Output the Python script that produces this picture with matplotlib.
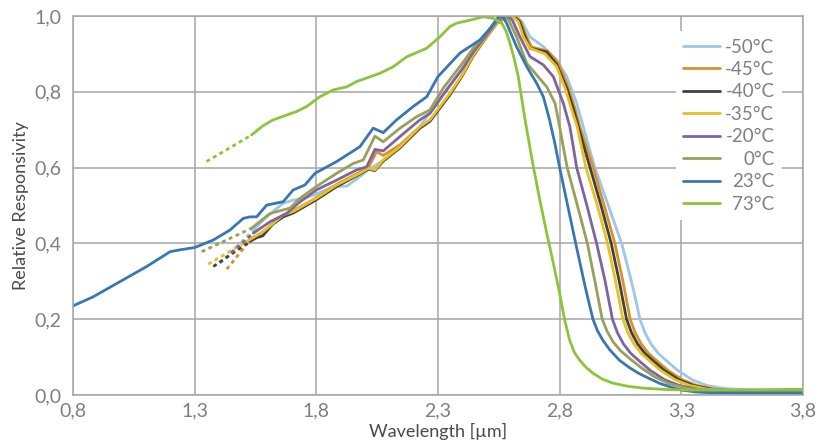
import matplotlib
matplotlib.use("Agg")
from matplotlib import pyplot as plt

plt.rcParams["font.family"] = ["Lato", "DejaVu Sans"]

# ----- data -----
labels = ["-50°C", "-45°C", "-40°C", "-35°C", "-20°C", "0°C", "23°C", "73°C"]
colors = ["#9dc6ea", "#d8922a", "#404040", "#e8c01f", "#8064a2", "#98a05a", "#3a77b0", "#8cc43c"]

# dashed (extrapolated) starts
dash_x_m50 = [1.404, 1.541]
dash_y_m50 = [0.347, 0.435]
dash_x_m45 = [1.432, 1.534]
dash_y_m45 = [0.332, 0.413]
dash_x_m40 = [1.377, 1.527]
dash_y_m40 = [0.339, 0.405]
dash_x_m35 = [1.356, 1.514]
dash_y_m35 = [0.345, 0.405]
dash_x_m20 = [1.45, 1.541]
dash_y_m20 = [0.375, 0.427]
dash_x_0 = [1.329, 1.534]
dash_y_0 = [0.378, 0.440]
dash_x_23 = []
dash_y_23 = []
dash_x_73 = [1.349, 1.534]
dash_y_73 = [0.616, 0.686]

x_m50 = [1.541, 1.596, 1.664, 1.705, 1.753, 1.80, 1.87, 1.925, 1.979, 2.021, 2.075, 2.144, 2.226, 2.30,
         2.38, 2.445, 2.50, 2.545, 2.585, 2.62, 2.645, 2.678, 2.733, 2.788, 2.829, 2.87, 2.897, 2.92, 2.945,
         3.0, 3.055, 3.095, 3.113, 3.13, 3.15, 3.175, 3.205, 3.245, 3.285, 3.345, 3.405, 3.48, 3.58, 3.8]
y_m50 = [0.435, 0.470, 0.506, 0.514, 0.519, 0.530, 0.550, 0.551, 0.576, 0.598, 0.618, 0.655, 0.708, 0.775,
         0.845, 0.897, 0.945, 0.982, 0.998, 1.0, 0.985, 0.945, 0.919, 0.884, 0.840, 0.770, 0.708, 0.655, 0.60,
         0.50, 0.40, 0.30, 0.25, 0.20, 0.165, 0.135, 0.11, 0.087, 0.065, 0.04, 0.025, 0.017, 0.013, 0.010]

x_m45 = [1.534, 1.58, 1.664, 1.705, 1.80, 1.884, 1.979, 2.014, 2.048, 2.075, 2.144, 2.226, 2.267, 2.349,
         2.40, 2.445, 2.50, 2.54, 2.58, 2.615, 2.64, 2.66, 2.685, 2.75, 2.795, 2.835, 2.862, 2.883, 2.91,
         2.938, 2.983, 3.027, 3.06, 3.075, 3.09, 3.11, 3.135, 3.165, 3.205, 3.245, 3.305, 3.365, 3.44, 3.55,
         3.8]
y_m45 = [0.413, 0.430, 0.475, 0.486, 0.520, 0.556, 0.588, 0.600, 0.642, 0.632, 0.660, 0.708, 0.724, 0.792,
         0.843, 0.895, 0.945, 0.980, 0.998, 1.0, 0.985, 0.950, 0.918, 0.908, 0.875, 0.812, 0.758, 0.708, 0.655,
         0.60, 0.50, 0.40, 0.30, 0.25, 0.20, 0.165, 0.135, 0.11, 0.087, 0.065, 0.04, 0.025, 0.015, 0.010,
         0.008]

x_m40 = [1.527, 1.555, 1.58, 1.62, 1.664, 1.705, 1.80, 1.884, 1.979, 2.014, 2.041, 2.075, 2.144, 2.226,
         2.267, 2.349, 2.40, 2.445, 2.50, 2.54, 2.58, 2.61, 2.635, 2.655, 2.678, 2.747, 2.788, 2.829, 2.856,
         2.877, 2.90, 2.925, 2.97, 3.012, 3.045, 3.06, 3.075, 3.095, 3.12, 3.15, 3.19, 3.23, 3.29, 3.35,
         3.425, 3.55, 3.8]
y_m40 = [0.405, 0.415, 0.420, 0.450, 0.470, 0.480, 0.515, 0.550, 0.583, 0.596, 0.592, 0.617, 0.652, 0.704,
         0.722, 0.792, 0.843, 0.895, 0.945, 0.980, 0.998, 1.0, 0.985, 0.950, 0.915, 0.905, 0.872, 0.810, 0.756,
         0.708, 0.655, 0.60, 0.50, 0.40, 0.30, 0.25, 0.20, 0.165, 0.135, 0.11, 0.087, 0.065, 0.04, 0.025,
         0.015, 0.009, 0.007]

x_m35 = [1.514, 1.582, 1.664, 1.705, 1.80, 1.884, 1.979, 2.014, 2.041, 2.075, 2.144, 2.226, 2.267, 2.349,
         2.40, 2.445, 2.50, 2.54, 2.575, 2.605, 2.63, 2.651, 2.678, 2.74, 2.788, 2.825, 2.85, 2.872, 2.89,
         2.908, 2.955, 2.997, 3.03, 3.045, 3.06, 3.08, 3.105, 3.135, 3.175, 3.215, 3.275, 3.335, 3.41, 3.55,
         3.8]
y_m35 = [0.405, 0.431, 0.475, 0.484, 0.519, 0.554, 0.585, 0.598, 0.594, 0.620, 0.655, 0.708, 0.726, 0.796,
         0.845, 0.897, 0.945, 0.980, 0.997, 1.0, 0.985, 0.945, 0.915, 0.900, 0.866, 0.805, 0.752, 0.708, 0.655,
         0.60, 0.50, 0.40, 0.30, 0.25, 0.20, 0.165, 0.135, 0.11, 0.087, 0.065, 0.04, 0.025, 0.015, 0.008,
         0.007]

x_m20 = [1.541, 1.61, 1.678, 1.726, 1.80, 1.884, 1.966, 2.007, 2.041, 2.075, 2.144, 2.226, 2.267, 2.336,
         2.40, 2.445, 2.50, 2.54, 2.575, 2.605, 2.637, 2.678, 2.733, 2.774, 2.815, 2.842, 2.856, 2.87, 2.912,
         2.952, 2.987, 3.002, 3.017, 3.037, 3.062, 3.092, 3.132, 3.172, 3.232, 3.292, 3.367, 3.5, 3.8]
y_m20 = [0.427, 0.457, 0.479, 0.506, 0.541, 0.567, 0.594, 0.602, 0.648, 0.644, 0.682, 0.726, 0.743, 0.805,
         0.860, 0.905, 0.950, 0.985, 1.0, 0.99, 0.945, 0.893, 0.871, 0.840, 0.770, 0.708, 0.655, 0.60, 0.50,
         0.40, 0.30, 0.25, 0.20, 0.165, 0.135, 0.11, 0.087, 0.065, 0.04, 0.025, 0.015, 0.008, 0.007]

x_0 = [1.534, 1.61, 1.692, 1.733, 1.80, 1.884, 1.952, 1.993, 2.041, 2.075, 2.144, 2.212, 2.267, 2.322,
       2.40, 2.445, 2.50, 2.535, 2.562, 2.59, 2.623, 2.665, 2.706, 2.747, 2.781, 2.80, 2.815, 2.831, 2.873,
       2.914, 2.945, 2.96, 2.975, 2.995, 3.02, 3.05, 3.09, 3.135, 3.19, 3.25, 3.32, 3.45, 3.8]
y_0 = [0.440, 0.479, 0.493, 0.519, 0.550, 0.585, 0.611, 0.620, 0.683, 0.668, 0.704, 0.734, 0.752, 0.810,
       0.875, 0.915, 0.955, 0.985, 1.0, 0.99, 0.945, 0.875, 0.844, 0.813, 0.770, 0.708, 0.655, 0.60, 0.50,
       0.40, 0.30, 0.25, 0.20, 0.168, 0.14, 0.117, 0.095, 0.072, 0.048, 0.03, 0.018, 0.009, 0.007]

x_23 = [0.8, 0.883, 0.993, 1.103, 1.199, 1.24, 1.30, 1.377, 1.445, 1.50, 1.527, 1.555, 1.596, 1.664,
        1.705, 1.753, 1.795, 1.884, 1.979, 2.034, 2.075, 2.13, 2.198, 2.254, 2.30, 2.39, 2.473, 2.514,
        2.548, 2.565, 2.582, 2.623, 2.665, 2.706, 2.733, 2.757, 2.78, 2.80, 2.833, 2.866, 2.90, 2.918,
        2.937, 2.955, 2.977, 3.005, 3.045, 3.085, 3.125, 3.17, 3.21, 3.26, 3.30, 3.36, 3.42, 3.6, 3.8]
y_23 = [0.235, 0.259, 0.299, 0.339, 0.378, 0.383, 0.389, 0.409, 0.435, 0.466, 0.470, 0.470, 0.501, 0.510,
        0.541, 0.554, 0.585, 0.616, 0.655, 0.704, 0.692, 0.726, 0.761, 0.787, 0.840, 0.902, 0.937, 0.967,
        0.997, 1.0, 0.981, 0.919, 0.866, 0.822, 0.787, 0.73, 0.665, 0.60, 0.50, 0.40, 0.30, 0.25,
        0.20, 0.17, 0.145, 0.12, 0.092, 0.073, 0.057, 0.043, 0.031, 0.02, 0.013, 0.008, 0.006, 0.005, 0.005]

x_73 = [1.534, 1.58, 1.623, 1.719, 1.76, 1.815, 1.87, 1.925, 1.966, 2.062, 2.116, 2.171, 2.254, 2.308,
        2.349, 2.376, 2.432, 2.486, 2.527, 2.562, 2.58, 2.596, 2.612, 2.63, 2.658, 2.692, 2.72, 2.747, 2.775,
        2.80, 2.82, 2.841, 2.86, 2.882, 2.91, 2.938, 2.975, 3.02, 3.08, 3.144, 3.25, 3.349, 3.6, 3.8]
y_73 = [0.686, 0.710, 0.726, 0.748, 0.761, 0.787, 0.805, 0.813, 0.827, 0.849, 0.866, 0.892, 0.915, 0.945,
        0.972, 0.981, 0.989, 0.998, 0.994, 0.981, 0.96, 0.928, 0.89, 0.840, 0.726, 0.602, 0.51, 0.427, 0.345,
        0.268, 0.20, 0.145, 0.113, 0.092, 0.072, 0.057, 0.042, 0.031, 0.023, 0.018, 0.014, 0.013, 0.014, 0.015]

series = [
    (x_m50, y_m50, dash_x_m50, dash_y_m50),
    (x_m45, y_m45, dash_x_m45, dash_y_m45),
    (x_m40, y_m40, dash_x_m40, dash_y_m40),
    (x_m35, y_m35, dash_x_m35, dash_y_m35),
    (x_m20, y_m20, dash_x_m20, dash_y_m20),
    (x_0, y_0, dash_x_0, dash_y_0),
    (x_23, y_23, dash_x_23, dash_y_23),
    (x_73, y_73, dash_x_73, dash_y_73),
]

x_ticks = [0.8, 1.3, 1.8, 2.3, 2.8, 3.3, 3.8]
y_ticks = [0.0, 0.2, 0.4, 0.6, 0.8, 1.0]

grid_col = "#a6a6a6"
text_col = "#7f7f7f"

fig = plt.figure(figsize=(8.29, 4.44), dpi=100)
ax = fig.add_axes([0.088, 0.1104, 0.8806, 0.8536])

handles = []
for (xs, ys, dx, dy), lab, col in zip(series, labels, colors):
    line, = ax.plot(xs, ys, color=col, lw=2.0, label=lab,
                    solid_capstyle="round", solid_joinstyle="round")
    if dx:
        ax.plot(dx, dy, color=col, lw=2.0, linestyle=(0, (1.4, 1.3)))
    handles.append(line)

ax.set_xlim(0.8, 3.8)
ax.set_ylim(0.0, 1.0)
ax.set_xticks(x_ticks)
ax.set_yticks(y_ticks)
ax.set_xticklabels([f"{v:.1f}".replace(".", ",") for v in x_ticks])
ax.set_yticklabels([f"{v:.1f}".replace(".", ",") for v in y_ticks])
ax.tick_params(length=0, labelsize=14, labelcolor=text_col)
ax.tick_params(axis="x", pad=5)
ax.tick_params(axis="y", pad=8)

ax.grid(True, color=grid_col, lw=1.1)
ax.set_axisbelow(True)
for sp in ax.spines.values():
    sp.set_color(grid_col)
    sp.set_linewidth(1.1)

ax.set_xlabel("Wavelength [µm]", fontsize=13, color="#4a4a4a", labelpad=3)
ax.set_ylabel("Relative Responsivity", fontsize=13, color="#4a4a4a", labelpad=4)

leg = ax.legend(handles=handles, loc="upper right", bbox_to_anchor=(0.984, 0.985),
                fontsize=13.5, frameon=True, facecolor="white", edgecolor="none", framealpha=1,
                fancybox=False, handlelength=1.95, handletextpad=0.3, labelspacing=0.29,
                borderpad=0.4)
for t in leg.get_texts():
    t.set_color(text_col)

# right-align legend labels
fig.canvas.draw()
widths = [t.get_window_extent().width for t in leg.get_texts()]
mw = max(widths)
for t, w in zip(leg.get_texts(), widths):
    t.set_x(mw - w)

fig.savefig("out.png", dpi=100)
